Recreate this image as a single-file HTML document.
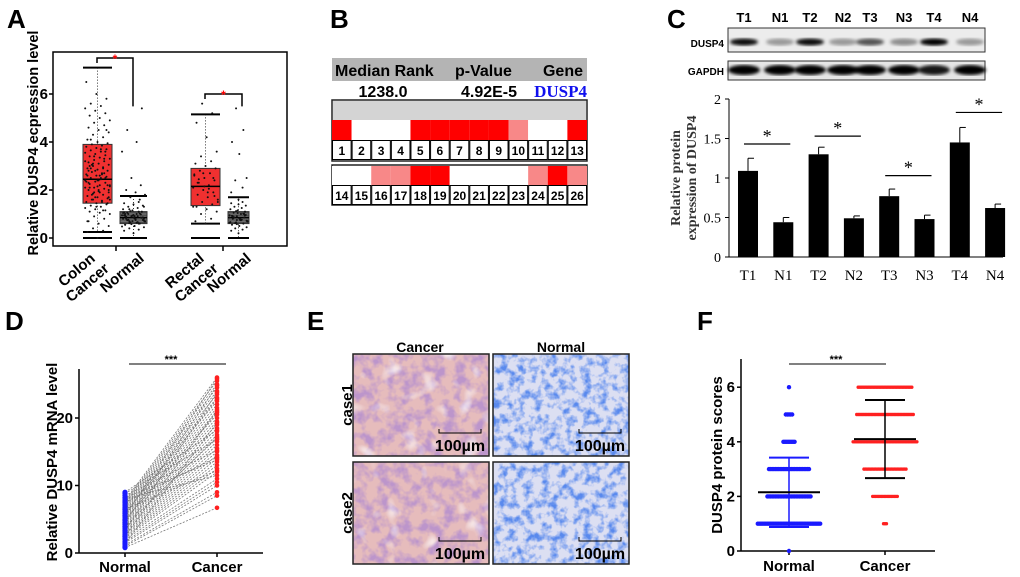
<!DOCTYPE html>
<html><head><meta charset="utf-8">
<style>
html,body{margin:0;padding:0;background:#fff;}
svg{display:block;font-family:"Liberation Sans",Arial,sans-serif;}
</style></head>
<body>
<svg id="fig" width="1020" height="577" viewBox="0 0 1020 577" xmlns="http://www.w3.org/2000/svg">
<defs>
<filter id="blur1"><feGaussianBlur stdDeviation="1.6"/></filter>
<filter id="texC" x="0" y="0" width="100%" height="100%">
<feTurbulence type="fractalNoise" baseFrequency="0.09" numOctaves="3" seed="3" result="n"/>
<feColorMatrix in="n" type="matrix" values="0 0 0 0 0.5  0 0 0 0 0.3  0 0 0 0 0.6  0 0 0 3 -1.2"/>
</filter>
<filter id="texC2" x="0" y="0" width="100%" height="100%">
<feTurbulence type="fractalNoise" baseFrequency="0.05" numOctaves="2" seed="9" result="n"/>
<feColorMatrix in="n" type="matrix" values="0 0 0 0 1  0 0 0 0 1  0 0 0 0 1  0 0 0 -3 1.2"/>
</filter>
<filter id="texN" x="0" y="0" width="100%" height="100%">
<feTurbulence type="fractalNoise" baseFrequency="0.12" numOctaves="3" seed="7" result="n"/>
<feColorMatrix in="n" type="matrix" values="0 0 0 0 0.1  0 0 0 0 0.25  0 0 0 0 0.85  0 0 0 3 -1.3"/>
</filter>
</defs>

<text x="7" y="28" font-size="26" font-weight="bold">A</text>
<text x="330" y="28" font-size="26" font-weight="bold">B</text>
<text x="667" y="28" font-size="26" font-weight="bold">C</text>
<text x="5" y="330" font-size="26" font-weight="bold">D</text>
<text x="307" y="330" font-size="26" font-weight="bold">E</text>
<text x="697" y="330" font-size="26" font-weight="bold">F</text>

<g id="panelA"></g>
<g id="panelB"></g>
<g id="panelC"></g>
<g id="panelD"></g>
<g id="panelE"></g>
<g id="panelF"></g>
</svg>

<script>
// ---------- DATA ----------
const aGroups = ["Colon Cancer","Colon Normal","Rectal Cancer","Rectal Normal"];
const aQ1 = [1.45, 0.6, 1.35, 0.6];
const aMedian = [2.45, 0.85, 2.15, 0.85];
const aQ3 = [3.9, 1.1, 2.9, 1.1];
const aWhiskLow = [0.25, 0, 0.6, 0];
const aWhiskHigh = [7.1, 1.75, 5.15, 1.7];
const aYTicks = [0, 2, 4, 6];
const aColonCancerPts = [0,0.25,0.3,0.4,0.5,0.6,0.7,0.8,0.9,1.0,1.05,1.1,1.15,1.2,1.25,1.3,1.35,1.4,1.45,1.5,1.55,1.6,1.65,1.7,1.75,1.8,1.85,1.9,1.95,2.0,2.05,2.1,2.15,2.2,2.25,2.3,2.35,2.4,2.45,2.5,2.55,2.6,2.65,2.7,2.75,2.8,2.85,2.9,2.95,3.0,3.05,3.1,3.15,3.2,3.25,3.3,3.35,3.4,3.45,3.5,3.55,3.6,3.65,3.7,3.75,3.8,3.85,3.9,3.95,4.0,4.1,4.2,4.3,4.4,4.5,4.6,4.7,4.8,4.9,5.0,5.1,5.2,5.3,5.4,5.5,5.6,5.8,6.0,6.5,1.5,1.8,2.2,2.4,2.6,2.9,3.1,1.7,2.0,2.3,2.7,3.4,1.6,1.9,2.1,2.5,2.8,3.2,3.7,4.1,4.5,1.3,2.35,2.65,3.05,1.45,2.15,0.7,1.15,1.6,2.0,2.4,2.8,3.3,1.9,2.2,2.6,3.0,3.6,1.7,2.1,2.5,2.9];
const aColonNormalPts = [0.2,0.3,0.35,0.4,0.45,0.5,0.55,0.6,0.65,0.7,0.75,0.8,0.85,0.9,0.95,1.0,1.05,1.1,1.15,1.2,1.25,1.3,1.35,1.4,1.45,1.5,0.62,0.72,0.82,0.92,1.02,1.12,0.68,0.78,0.88,0.98,0.58,0.48,0.64,0.74,0.84,0.94,1.04,0.66,0.76,0.86,0.96,1.06,0.6,0.7,0.8,0.9,1.0,1.6,1.7,1.8,1.9,2.0,2.2,2.5,3.6,4.0,4.5,5.4,0.7,0.8,0.9,1.0,0.75,0.85,0.95,1.1,1.2,1.3,0.5,0.55];
const aRectalCancerPts = [0.6,0.7,0.8,1.0,1.1,1.2,1.3,1.4,1.5,1.6,1.7,1.8,1.9,2.0,2.1,2.2,2.3,2.4,2.5,2.6,2.7,2.8,2.9,3.0,3.1,3.2,3.4,3.6,4.2,4.8,5.2,5.6,1.5,1.9,2.3,2.5,2.7,1.3,2.05,2.45,1.75,2.15,2.65];
const aRectalNormalPts = [0.2,0.3,0.35,0.4,0.45,0.5,0.55,0.6,0.65,0.7,0.75,0.8,0.85,0.9,0.95,1.0,1.05,1.1,1.15,1.2,1.25,1.3,1.35,1.4,1.45,1.5,0.62,0.72,0.82,0.92,1.02,1.12,0.68,0.78,0.88,0.98,0.58,0.64,0.74,0.84,0.94,1.04,0.66,0.76,0.86,0.96,1.6,1.9,2.1,2.4,2.5,3.5,4.0,4.5,5.4,0.7,0.8,0.9,1.0,0.75,0.85];

const bRow1Labels = [1,2,3,4,5,6,7,8,9,10,11,12,13];
const bRow1Levels = [2,0,0,0,2,2,2,2,2,1,0,0,2];
const bRow2Labels = [14,15,16,17,18,19,20,21,22,23,24,25,26];
const bRow2Levels = [0,0,1,1,2,2,0,0,0,0,1,2,1];

const cLanes = ["T1","N1","T2","N2","T3","N3","T4","N4"];
const cValues = [1.09,0.44,1.30,0.49,0.77,0.48,1.45,0.62];
const cErrors = [0.16,0.06,0.09,0.03,0.09,0.05,0.19,0.05];
const cDuspBand = [0.95,0.35,0.95,0.35,0.65,0.4,1.0,0.35];
const cGapdhBand = [1,1,1,1,1,1,0.9,1];
const cSigLevels = [1.43,1.53,1.03,1.83];
const cYTicks = [0,0.5,1,1.5,2];
const cYTickLabels = ["0","0.5","1","1.5","2"];

const dNormal = [0.8,1.0,1.2,1.5,1.7,2.0,2.2,2.4,2.6,2.8,3.0,3.2,3.4,3.6,3.8,4.0,4.2,4.4,4.6,4.8,5.0,5.2,5.4,5.6,5.8,6.0,6.2,6.4,6.6,6.8,7.0,7.2,7.4,7.6,7.8,8.0,8.2,8.5,8.8,9.0,1.4,2.5,3.3,4.5,5.5,6.5,7.5,3.9,4.9,5.9];
const dCancer = [6.7,8.5,9.0,10.0,10.5,11.0,12.0,12.5,13.0,13.5,14.0,14.5,15.0,15.5,16.0,16.5,17.0,17.5,18.0,18.5,19.0,19.5,20.0,20.5,21.0,21.5,22.0,22.5,23.0,23.5,24.0,24.5,25.0,25.5,26.0,11.5,13.8,15.2,16.8,18.2,19.3,21.2,23.8,24.8,25.8,12.2,14.2,17.2,20.8,22.8];
const dYTicks = [0,10,20];

const fScores = [0,1,2,3,4,5,6];
const fNormalCounts = [1,40,28,26,8,5,1];
const fCancerCounts = [0,3,18,30,45,40,38];
const fMeans = [2.15,4.1];
const fSD = [1.27,1.43];
const fYTicks = [0,2,4,6];

const NS = "http://www.w3.org/2000/svg";
function mk(parent, tag, attrs, text){
  const e = document.createElementNS(NS, tag);
  for (const k in attrs) e.setAttribute(k, attrs[k]);
  if (text !== undefined) e.textContent = text;
  parent.appendChild(e);
  return e;
}
function jit(i, n){ return (((i*37+11)%23)/22 - 0.5)*n; }

// ---------- PANEL A ----------
(function(){
  const g = document.getElementById('panelA');
  const yA = v => 238 - 24*v;
  const xs = [[83,112],[120,147],[191,220],[228,249]];
  let fr = mk(g,'rect',{x:53,y:52,width:234,height:194,fill:'none',stroke:'#000','stroke-width':1.5});
   
  aYTicks.forEach(t=>{
    mk(g,'line',{x1:49,x2:53,y1:yA(t),y2:yA(t),stroke:'#000','stroke-width':1.5});
    const tx = mk(g,'text',{x:48,y:yA(t)+5,'font-size':15,'font-weight':'bold','text-anchor':'end'},String(t));
     
  });
  [116,223].forEach(x=>{ mk(g,'line',{x1:x,x2:x,y1:246,y2:251,stroke:'#000','stroke-width':1.5}); });
  const yt = mk(g,'text',{x:0,y:0,'font-size':14.5,'font-weight':'bold','text-anchor':'middle',transform:'translate(38,143) rotate(-90)'},'Relative DUSP4 ecpression level');
   
  const fills = ['#f03030','#6e6e6e','#f03030','#6e6e6e'];
  const pts = [aColonCancerPts,aColonNormalPts,aRectalCancerPts,aRectalNormalPts];
  for (let k=0;k<4;k++){
    const [x0,x1] = xs[k], xc=(x0+x1)/2;
    mk(g,'line',{x1:xc,x2:xc,y1:yA(aWhiskHigh[k]),y2:yA(aWhiskLow[k]),stroke:'#000','stroke-dasharray':'1,2','stroke-width':0.8});
    const bx = mk(g,'rect',{x:x0,y:yA(aQ3[k]),width:x1-x0,height:yA(aQ1[k])-yA(aQ3[k]),fill:fills[k],stroke:'#333','stroke-width':1});
     
    if (k%2===1){ for(let v=aQ1[k]+0.05; v<aQ3[k]; v+=0.1){ mk(g,'line',{x1:x0,x2:x1,y1:yA(v),y2:yA(v),stroke:'#333','stroke-width':0.6}); } }
    mk(g,'line',{x1:x0,x2:x1,y1:yA(aMedian[k]),y2:yA(aMedian[k]),stroke:'#000','stroke-width':1.5});
    mk(g,'line',{x1:x0,x2:x1,y1:yA(aWhiskHigh[k]),y2:yA(aWhiskHigh[k]),stroke:'#000','stroke-width':2});
    mk(g,'line',{x1:x0,x2:x1,y1:yA(aWhiskLow[k]),y2:yA(aWhiskLow[k]),stroke:'#000','stroke-width':2});
    mk(g,'line',{x1:x0,x2:x1,y1:yA(0),y2:yA(0),stroke:'#000','stroke-width':2});
    pts[k].forEach((v,i)=>{
      const c = mk(g,'circle',{cx:xc+jit(i,(x1-x0)*0.85),cy:yA(v),r:1.0,fill:'#111'});
       
    });
  }
  [[97,133,7.5],[205,242,6.0]].forEach(([a,b,v])=>{
    const p = mk(g,'path',{d:`M${a},${yA(v)+5} V${yA(v)} H${b} V${yA(5.4)-2}`,fill:'none',stroke:'#000','stroke-width':1.5});
     
    mk(g,'text',{x:(a+b)/2,y:yA(v)+5,'font-size':12,'font-weight':'bold',fill:'#f00','text-anchor':'middle'},'*');
  });
  const lab = [['Colon',96,260],['Cancer',110,270],['Normal',145,260],['Rectal',205,260],['Cancer',219,270],['Normal',252,260]];
  lab.forEach(([t,x,y])=>{
    const e = mk(g,'text',{x:x,y:y,'font-size':15,'font-weight':'bold','text-anchor':'end',transform:`rotate(-40 ${x} ${y})`},t);
     
  });
})();

// ---------- PANEL B ----------
(function(){
  const g = document.getElementById('panelB');
  const x0=332, w=255, cw=w/13;
  mk(g,'rect',{x:x0,y:58,width:w,height:23,fill:'#b4b4b4'});
  [['Median Rank',335,'start'],['p-Value',455,'start'],['Gene',583,'end']].forEach(([t,x,a])=>{ const e=mk(g,'text',{x:x,y:76,'font-size':16,'font-weight':'bold','text-anchor':a},t);   });
  mk(g,'text',{x:383,y:97,'font-size':16,'font-weight':'bold','text-anchor':'middle'},'1238.0');
  mk(g,'text',{x:489,y:97,'font-size':16,'font-weight':'bold','text-anchor':'middle'},'4.92E-5');
  const gn = mk(g,'text',{x:587,y:97,'font-size':17,'font-weight':'bold','text-anchor':'end',fill:'#1010ee','font-family':'"Liberation Serif",serif'},'DUSP4');
   
  const cols = ['#ffffff','#f88888','#ff0000'];
  function row(labels, levels, yc, yn){
    levels.forEach((lv,i)=>{
      const r = mk(g,'rect',{x:x0+i*cw,y:yc,width:cw,height:20,fill:cols[lv]});
       
      mk(g,'rect',{x:x0+i*cw+0.5,y:yn+0.5,width:cw-1,height:19,fill:'#fff',stroke:'#000','stroke-width':1});
      mk(g,'text',{x:x0+i*cw+cw/2,y:yn+15,'font-size':12,'font-weight':'bold','text-anchor':'middle'},String(labels[i]));
    });
  }
  mk(g,'rect',{x:x0,y:100,width:w,height:61,fill:'#fff',stroke:'#222','stroke-width':1.5});
  mk(g,'rect',{x:x0+1,y:101,width:w-2,height:19,fill:'#d4d4d4'});
  row(bRow1Labels,bRow1Levels,120,140);
  mk(g,'rect',{x:x0,y:165,width:w,height:40,fill:'#fff',stroke:'#222','stroke-width':1.5});
  row(bRow2Labels,bRow2Levels,166,185);
})();

// ---------- PANEL C ----------
(function(){
  const g = document.getElementById('panelC');
  const laneX = [744,780,810,843,870,904,934,970];
  cLanes.forEach((l,i)=>{ const e=mk(g,'text',{x:laneX[i],y:22,'font-size':13,'font-weight':'bold','text-anchor':'middle'},l);   });
  mk(g,'text',{x:724,y:47,'font-size':10,'font-weight':'bold','text-anchor':'end'},'DUSP4');
  mk(g,'text',{x:724,y:75,'font-size':10,'font-weight':'bold','text-anchor':'end'},'GAPDH');
  mk(g,'rect',{x:728,y:28,width:257,height:24,fill:'#ececec',stroke:'#333','stroke-width':1});
  mk(g,'rect',{x:728,y:61,width:257,height:19,fill:'#e6e6e6',stroke:'#333','stroke-width':1});
  cDuspBand.forEach((d,i)=>{ const e=mk(g,'ellipse',{cx:laneX[i],cy:42,rx:14,ry:3.5,fill:'#000','fill-opacity':d,filter:'url(#blur1)'});   });
  cGapdhBand.forEach((d,i)=>{ const e=mk(g,'ellipse',{cx:laneX[i],cy:70,rx:16,ry:5,fill:'#000','fill-opacity':d,filter:'url(#blur1)'});   });
  const yC = v => 257 - 79*v;
  const xC = i => 748 + 35.3*i;
  mk(g,'line',{x1:729,x2:729,y1:yC(2),y2:yC(0),stroke:'#000','stroke-width':1});
  mk(g,'line',{x1:729,x2:1003,y1:yC(0),y2:yC(0),stroke:'#000','stroke-width':1});
  cYTicks.forEach((t,i)=>{
    mk(g,'line',{x1:725,x2:729,y1:yC(t),y2:yC(t),stroke:'#000'});
    const e=mk(g,'text',{x:721,y:yC(t)+5,'font-size':14,'text-anchor':'end','font-family':'"Liberation Serif",serif'},cYTickLabels[i]);
     
  });
  cValues.forEach((v,i)=>{
    const b = mk(g,'rect',{x:xC(i)-10,y:yC(v),width:20,height:yC(0)-yC(v),fill:'#000'});
     
    mk(g,'line',{x1:xC(i),x2:xC(i),y1:yC(v),y2:yC(v+cErrors[i]),stroke:'#000','stroke-width':1});
    mk(g,'line',{x1:xC(i),x2:xC(i)+6,y1:yC(v+cErrors[i]),y2:yC(v+cErrors[i]),stroke:'#000','stroke-width':1});
    const t = mk(g,'text',{x:xC(i),y:280,'font-size':15,'text-anchor':'middle','font-family':'"Liberation Serif",serif'},cLanes[i]);
     
  });
  cSigLevels.forEach((v,k)=>{
    const a = xC(2*k)-4, b = xC(2*k+1)+7;
    mk(g,'line',{x1:a,x2:b,y1:yC(v),y2:yC(v),stroke:'#000','stroke-width':1.2});
    mk(g,'text',{x:(a+b)/2,y:yC(v)-2,'font-size':18,'text-anchor':'middle','font-family':'"Liberation Serif",serif'},'*');
  });
  const t1 = mk(g,'text',{x:0,y:0,'font-size':14,'font-weight':'bold','text-anchor':'middle',fill:'#333','font-family':'"Liberation Serif",serif',transform:'translate(680,178) rotate(-90)'},'Relative protein');
   
  mk(g,'text',{x:0,y:0,'font-size':14,'font-weight':'bold','text-anchor':'middle',fill:'#333','font-family':'"Liberation Serif",serif',transform:'translate(696,178) rotate(-90)'},'expression of DUSP4');
})();

// ---------- PANEL D ----------
(function(){
  const g = document.getElementById('panelD');
  const yD = v => 553 - 6.75*v;
  const xN = 125, xK = 217;
  mk(g,'line',{x1:79,x2:79,y1:369,y2:553,stroke:'#000','stroke-width':1.5});
  mk(g,'line',{x1:79,x2:263,y1:553,y2:553,stroke:'#000','stroke-width':1.5});
  dYTicks.forEach(t=>{
    mk(g,'line',{x1:75,x2:79,y1:yD(t),y2:yD(t),stroke:'#000','stroke-width':1.5});
    const e=mk(g,'text',{x:73,y:yD(t)+5,'font-size':15,'font-weight':'bold','text-anchor':'end'},String(t));
     
  });
  [xN,xK].forEach(x=>mk(g,'line',{x1:x,x2:x,y1:553,y2:557,stroke:'#000','stroke-width':1.5}));
  const t = mk(g,'text',{x:0,y:0,'font-size':15,'font-weight':'bold','text-anchor':'middle',transform:'translate(57,462) rotate(-90)'},'Relative DUSP4 mRNA level');
   
  mk(g,'text',{x:xN,y:572,'font-size':15,'font-weight':'bold','text-anchor':'middle'},'Normal');
  mk(g,'text',{x:xK,y:572,'font-size':15,'font-weight':'bold','text-anchor':'middle'},'Cancer');
  dNormal.forEach((v,i)=>{
    const l = mk(g,'line',{x1:xN,x2:xK,y1:yD(v),y2:yD(dCancer[i]),stroke:'#777','stroke-width':0.8,'stroke-dasharray':'2,1.5'});
     
  });
  dNormal.forEach(v=>{ const c=mk(g,'circle',{cx:xN,cy:yD(v),r:2.6,fill:'#1a1aff'});   });
  dCancer.forEach(v=>{ const c=mk(g,'circle',{cx:xK,cy:yD(v),r:2.3,fill:'#ff2020'});   });
  mk(g,'line',{x1:129,x2:226,y1:364,y2:364,stroke:'#000','stroke-width':1});
  mk(g,'text',{x:171,y:363,'font-size':11,'font-weight':'bold','text-anchor':'middle'},'***');
})();

// ---------- PANEL E ----------
(function(){
  const g = document.getElementById('panelE');
  mk(g,'text',{x:420,y:352,'font-size':14,'font-weight':'bold','text-anchor':'middle'},'Cancer');
  mk(g,'text',{x:561,y:352,'font-size':14,'font-weight':'bold','text-anchor':'middle'},'Normal');
  mk(g,'text',{x:0,y:0,'font-size':15,'font-weight':'bold','text-anchor':'middle',transform:'translate(352,405) rotate(-90)'},'case1');
  mk(g,'text',{x:0,y:0,'font-size':15,'font-weight':'bold','text-anchor':'middle',transform:'translate(352,513) rotate(-90)'},'case2');
  const imgs = [[353,354,'c','cancer-case1'],[493,354,'n','normal-case1'],[353,462,'c','cancer-case2'],[493,462,'n','normal-case2']];
  imgs.forEach(([x,y,t,n])=>{
    const gg = mk(g,'g',{});
     
    mk(gg,'rect',{x:x,y:y,width:136,height:102,fill:t==='c'?'#e6bcbc':'#dcdff2'});
    mk(gg,'rect',{x:x,y:y,width:136,height:102,filter:t==='c'?'url(#texC)':'url(#texN)'});
    if (t==='c') mk(gg,'rect',{x:x,y:y,width:136,height:102,filter:'url(#texC2)'});
    mk(gg,'rect',{x:x,y:y,width:136,height:102,fill:'none',stroke:'#222','stroke-width':1.5});
    mk(gg,'path',{d:`M${x+86},${y+75} v4 h42 v-4`,fill:'none',stroke:'#000','stroke-width':1});
    mk(gg,'text',{x:x+107,y:y+97,'font-size':16,'font-weight':'bold','text-anchor':'middle'},'100µm');
  });
})();

// ---------- PANEL F ----------
(function(){
  const g = document.getElementById('panelF');
  const yF = v => 551 - 27.3*v;
  const xs = [789,885];
  mk(g,'line',{x1:741,x2:741,y1:359,y2:551,stroke:'#000','stroke-width':1.5});
  mk(g,'line',{x1:741,x2:935,y1:551,y2:551,stroke:'#000','stroke-width':1.5});
  fYTicks.forEach(t=>{
    mk(g,'line',{x1:737,x2:741,y1:yF(t),y2:yF(t),stroke:'#000','stroke-width':1.5});
    const e=mk(g,'text',{x:735,y:yF(t)+5,'font-size':15,'font-weight':'bold','text-anchor':'end'},String(t));
     
  });
  xs.forEach(x=>mk(g,'line',{x1:x,x2:x,y1:551,y2:555,stroke:'#000','stroke-width':1.5}));
  const t = mk(g,'text',{x:0,y:0,'font-size':15,'font-weight':'bold','text-anchor':'middle',transform:'translate(722,455) rotate(-90)'},'DUSP4 protein  scores');
   
  mk(g,'text',{x:xs[0],y:571,'font-size':15,'font-weight':'bold','text-anchor':'middle'},'Normal');
  mk(g,'text',{x:xs[1],y:571,'font-size':15,'font-weight':'bold','text-anchor':'middle'},'Cancer');
  [[fNormalCounts,'#1a1aff',1.6,2.2],[fCancerCounts,'#ff2020',1.45,1.7]].forEach(([counts,col,sp,r],k)=>{
    fScores.forEach((s,j)=>{
      const n = counts[j];
      for(let i=0;i<n;i++){
        const c = mk(g,'circle',{cx:xs[k]+(i-(n-1)/2)*sp,cy:yF(s),r:r,fill:col});
         
      }
    });
    const m=fMeans[k], sd=fSD[k], ec = k===0?'#1a1aff':'#000';
    mk(g,'line',{x1:xs[k],x2:xs[k],y1:yF(m+sd),y2:yF(m-sd),stroke:ec,'stroke-width':1.5});
    mk(g,'line',{x1:xs[k]-20,x2:xs[k]+20,y1:yF(m+sd),y2:yF(m+sd),stroke:ec,'stroke-width':2});
    mk(g,'line',{x1:xs[k]-20,x2:xs[k]+20,y1:yF(m-sd),y2:yF(m-sd),stroke:ec,'stroke-width':2});
    const ml = mk(g,'line',{x1:xs[k]-31,x2:xs[k]+31,y1:yF(m),y2:yF(m),stroke:'#000','stroke-width':2});
     
  });
  mk(g,'line',{x1:789,x2:886,y1:364,y2:364,stroke:'#000','stroke-width':1});
  mk(g,'text',{x:836,y:363,'font-size':11,'font-weight':'bold','text-anchor':'middle'},'***');
})();
</script>
</body></html>
